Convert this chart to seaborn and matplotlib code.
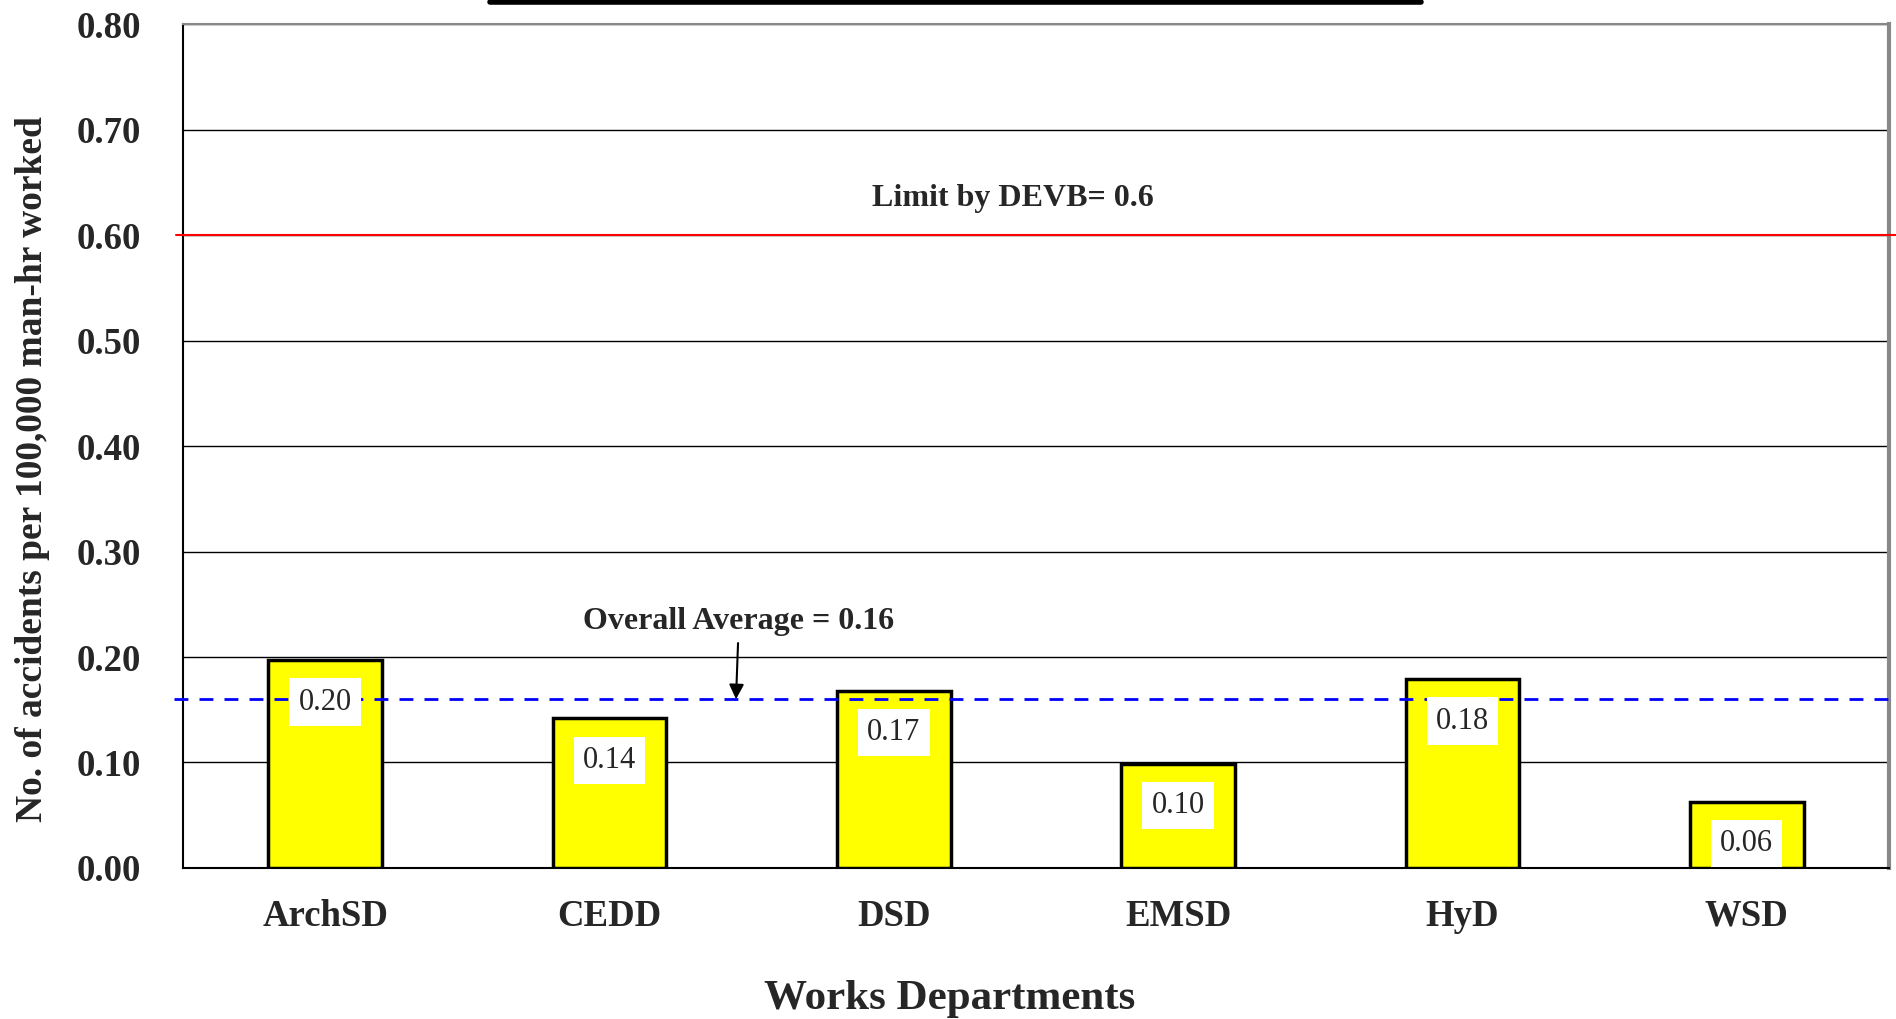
import matplotlib
matplotlib.use('Agg')
import matplotlib.pyplot as plt
import seaborn as sns
import pandas as pd
from matplotlib.lines import Line2D

# Data
departments = ['ArchSD', 'CEDD', 'DSD', 'EMSD', 'HyD', 'WSD']
rates = [0.197, 0.142, 0.168, 0.099, 0.179, 0.063]
rate_labels = ['0.20', '0.14', '0.17', '0.10', '0.18', '0.06']
devb_limit = 0.6
overall_avg = 0.16
y_ticks = [0.0, 0.1, 0.2, 0.3, 0.4, 0.5, 0.6, 0.7, 0.8]

sns.set_style('white')
plt.rcParams['font.family'] = ['Liberation Serif', 'DejaVu Serif']

df = pd.DataFrame({'dept': departments, 'rate': rates})

fig = plt.figure(figsize=(18.96, 10.19), dpi=100)
ax = fig.add_axes([0.0965, 0.1482, 0.8998, 0.8282])

sns.barplot(data=df, x='dept', y='rate', color='#FFFF00', saturation=1,
            edgecolor='black', linewidth=2.5, width=0.4, ax=ax, zorder=3)

ax.set_xlim(-0.5, len(departments) - 0.5)
ax.set_ylim(0, 0.8)
ax.set_yticks(y_ticks)
ax.set_yticklabels(['%.2f' % t for t in y_ticks])
ax.yaxis.grid(True, color='black', linewidth=1)
ax.set_axisbelow(True)

# small inward ticks between categories
ax.set_xticks([i + 0.5 for i in range(len(departments) - 1)], minor=True)
ax.tick_params(axis='x', which='minor', direction='in', length=13, width=1, color='black')
ax.tick_params(axis='x', which='major', length=0, pad=22, labelsize=26.5)
ax.tick_params(axis='y', length=0, pad=30, labelsize=26.5)
for lab in ax.get_xticklabels() + ax.get_yticklabels():
    lab.set_fontweight('bold')

for s in ['left', 'bottom']:
    ax.spines[s].set_color('black')
    ax.spines[s].set_linewidth(1.5)
ax.spines['top'].set_color('#888888')
ax.spines['top'].set_linewidth(1.5)
ax.spines['right'].set_color('#888888')
ax.spines['right'].set_linewidth(3)

# limit and average lines
ax.axhline(devb_limit, xmin=-0.004, xmax=1.005, color='red', linewidth=1.5,
           clip_on=False, zorder=4)
ax.axhline(overall_avg, xmin=-0.005, xmax=1.005, color='blue', linewidth=2,
           linestyle=(0, (5, 4)), clip_on=False, zorder=5)

ax.text(2.42, 0.635, 'Limit by DEVB= 0.6', ha='center', va='center',
        fontsize=23, fontweight='bold')
ax.annotate('Overall Average = 0.16', xy=(1.445, overall_avg), xytext=(1.455, 0.234),
            ha='center', va='center', fontsize=23, fontweight='bold',
            arrowprops=dict(arrowstyle='-|>', color='black', lw=1.5,
                            mutation_scale=22, shrinkA=3, shrinkB=0),
            zorder=6)

# value labels inside the bars
for i, (h, lab) in enumerate(zip(rates, rate_labels)):
    ax.annotate(lab, xy=(i, h), xytext=(0, -42), textcoords='offset pixels',
                ha='center', va='center', fontsize=22, zorder=6,
                bbox=dict(boxstyle='square,pad=0.3', fc='white', ec='none'))

ax.set_xlabel('Works Departments', fontsize=31, fontweight='bold')
ax.xaxis.set_label_coords((950 - 183) / 1706, -(999 - 868) / 844)
ax.xaxis.label.set_va('center')
ax.set_ylabel('No. of accidents per 100,000 man-hr worked', fontsize=27,
              fontweight='bold')
ax.yaxis.set_label_coords(-(183 - 33) / 1706, 0.473)
ax.yaxis.label.set_va('center')

# black bar at the very top of the page
fig.add_artist(Line2D([490 / 1896, 1421 / 1896], [1 - 2 / 1019, 1 - 2 / 1019],
                      color='black', linewidth=4, transform=fig.transFigure))

fig.savefig('out.png', dpi=100)
